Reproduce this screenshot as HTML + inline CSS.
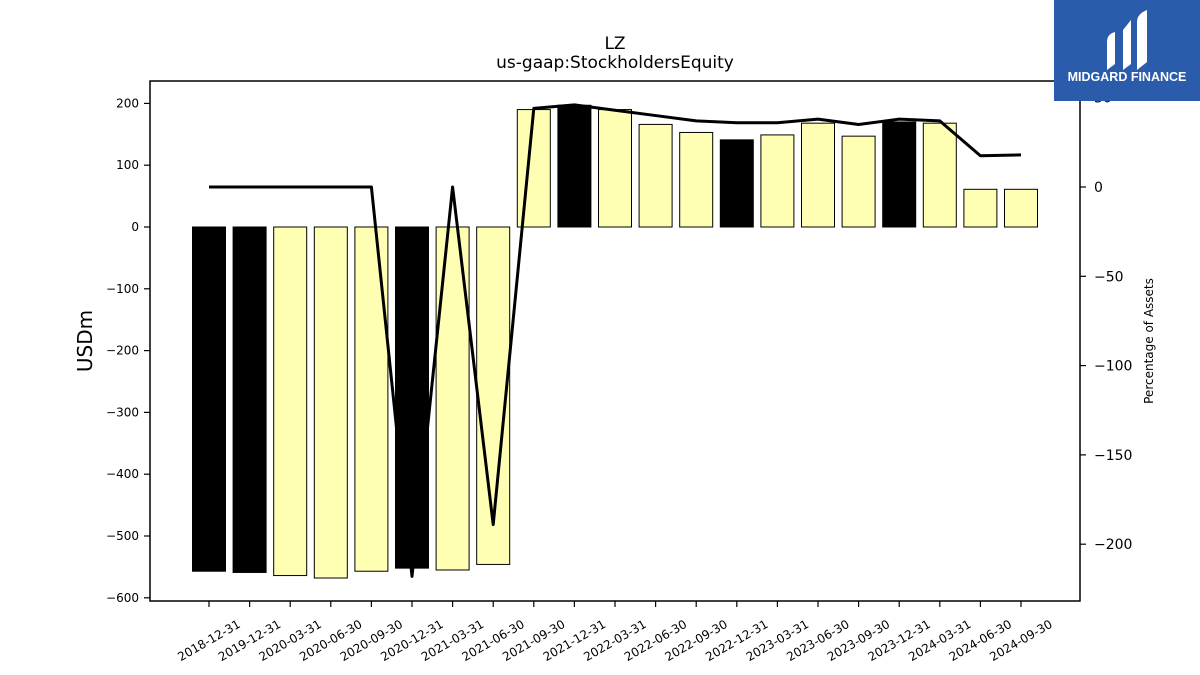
<!DOCTYPE html>
<html><head><meta charset="utf-8"><style>
html,body{margin:0;padding:0;background:#fff;}
svg{display:block;font-family:"DejaVu Sans","Liberation Sans",sans-serif;}
</style></head><body>
<svg id="chart" width="1200" height="675" viewBox="0 0 1200 675">
<text x="615" y="49" font-size="17" text-anchor="middle">LZ</text>
<text x="615" y="68" font-size="17" text-anchor="middle">us-gaap:StockholdersEquity</text>
<g id="bars"></g>
<g id="line"></g>
<rect x="150" y="81" width="930" height="520" fill="none" stroke="#000" stroke-width="1.5"/>
<g id="axes"></g>
<text transform="translate(92,341) rotate(-90)" font-size="20" text-anchor="middle">USDm</text>
<text transform="translate(1153,341) rotate(-90)" font-size="12" text-anchor="middle">Percentage of Assets</text>
<g>
<rect x="1054" y="0" width="146" height="101" fill="#2b5bab"/>
<path d="M1107 42 q0-8 8-10 v32 l-8 6 z M1123 30 l8-10 v30 l-4-6 -4 6 z M1137 22 q0-8 10-12 v52 l-10 8 z M1123 50 l4-6 4 6 v14 l-8 6z" fill="#fff"/>
<text x="1127" y="81" font-size="12.5" font-weight="bold" fill="#fff" text-anchor="middle" font-family="Liberation Sans, sans-serif">MIDGARD FINANCE</text>
</g>
</svg>
<script>
const categories=["2018-12-31","2019-12-31","2020-03-31","2020-06-30","2020-09-30","2020-12-31","2021-03-31","2021-06-30","2021-09-30","2021-12-31","2022-03-31","2022-06-30","2022-09-30","2022-12-31","2023-03-31","2023-06-30","2023-09-30","2023-12-31","2024-03-31","2024-06-30","2024-09-30"];
const equity=[-557,-559,-564,-568,-557,-552,-555,-546,190,197,190,166,153,141,149,168,147,170,168,61,61];
const pctAssets=[0,0,0,0,0,-218,0,-189,44,46,43,40,37,36,36,38,35,38,37,17.5,18];
const leftTicks=[200,100,0,-100,-200,-300,-400,-500,-600];
const rightTicks=[50,0,-50,-100,-150,-200];
const NS="http://www.w3.org/2000/svg";
const yL=v=>227-v*0.618;
const yR=v=>187-v*1.786;
const xC=i=>209+i*40.6;
const bw=33;
function mk(tag,attrs,parent){const e=document.createElementNS(NS,tag);for(const k in attrs)e.setAttribute(k,attrs[k]);parent.appendChild(e);return e;}
const bars=document.getElementById('bars'),line=document.getElementById('line'),axes=document.getElementById('axes');
equity.forEach((v,i)=>{
 const dec=categories[i].endsWith('12-31');
 const r=mk('rect',{x:xC(i)-bw/2,y:Math.min(yL(v),yL(0)),width:bw,height:Math.abs(yL(v)-yL(0)),fill:dec?'#000':'#ffffb3',stroke:'#000','stroke-width':1},bars);
 
 
});
const p=mk('polyline',{points:pctAssets.map((v,i)=>xC(i)+','+yR(v)).join(' '),fill:'none',stroke:'#000','stroke-width':3,'stroke-linejoin':'round'},line);


leftTicks.forEach(v=>{
 mk('line',{x1:144,x2:150,y1:yL(v),y2:yL(v),stroke:'#000','stroke-width':1.2},axes);
 const t=mk('text',{x:139,y:yL(v)+4,'font-size':12,'text-anchor':'end'},axes);
 t.textContent=String(v).replace('-','\u2212');
 
 
});
rightTicks.forEach(v=>{
 mk('line',{x1:1080,x2:1086,y1:yR(v),y2:yR(v),stroke:'#000','stroke-width':1.2},axes);
 const t=mk('text',{x:1094,y:yR(v)+5,'font-size':14},axes);
 t.textContent=String(v).replace('-','\u2212');
 
 
});
categories.forEach((c,i)=>{
 mk('line',{x1:xC(i),x2:xC(i),y1:601,y2:607,stroke:'#000','stroke-width':1.2},axes);
 const t=mk('text',{transform:'translate('+(xC(i)+2)+',644) rotate(-30)','font-size':12,'text-anchor':'middle'},axes);
 t.textContent=c;
 
 
});
</script>
</body></html>
